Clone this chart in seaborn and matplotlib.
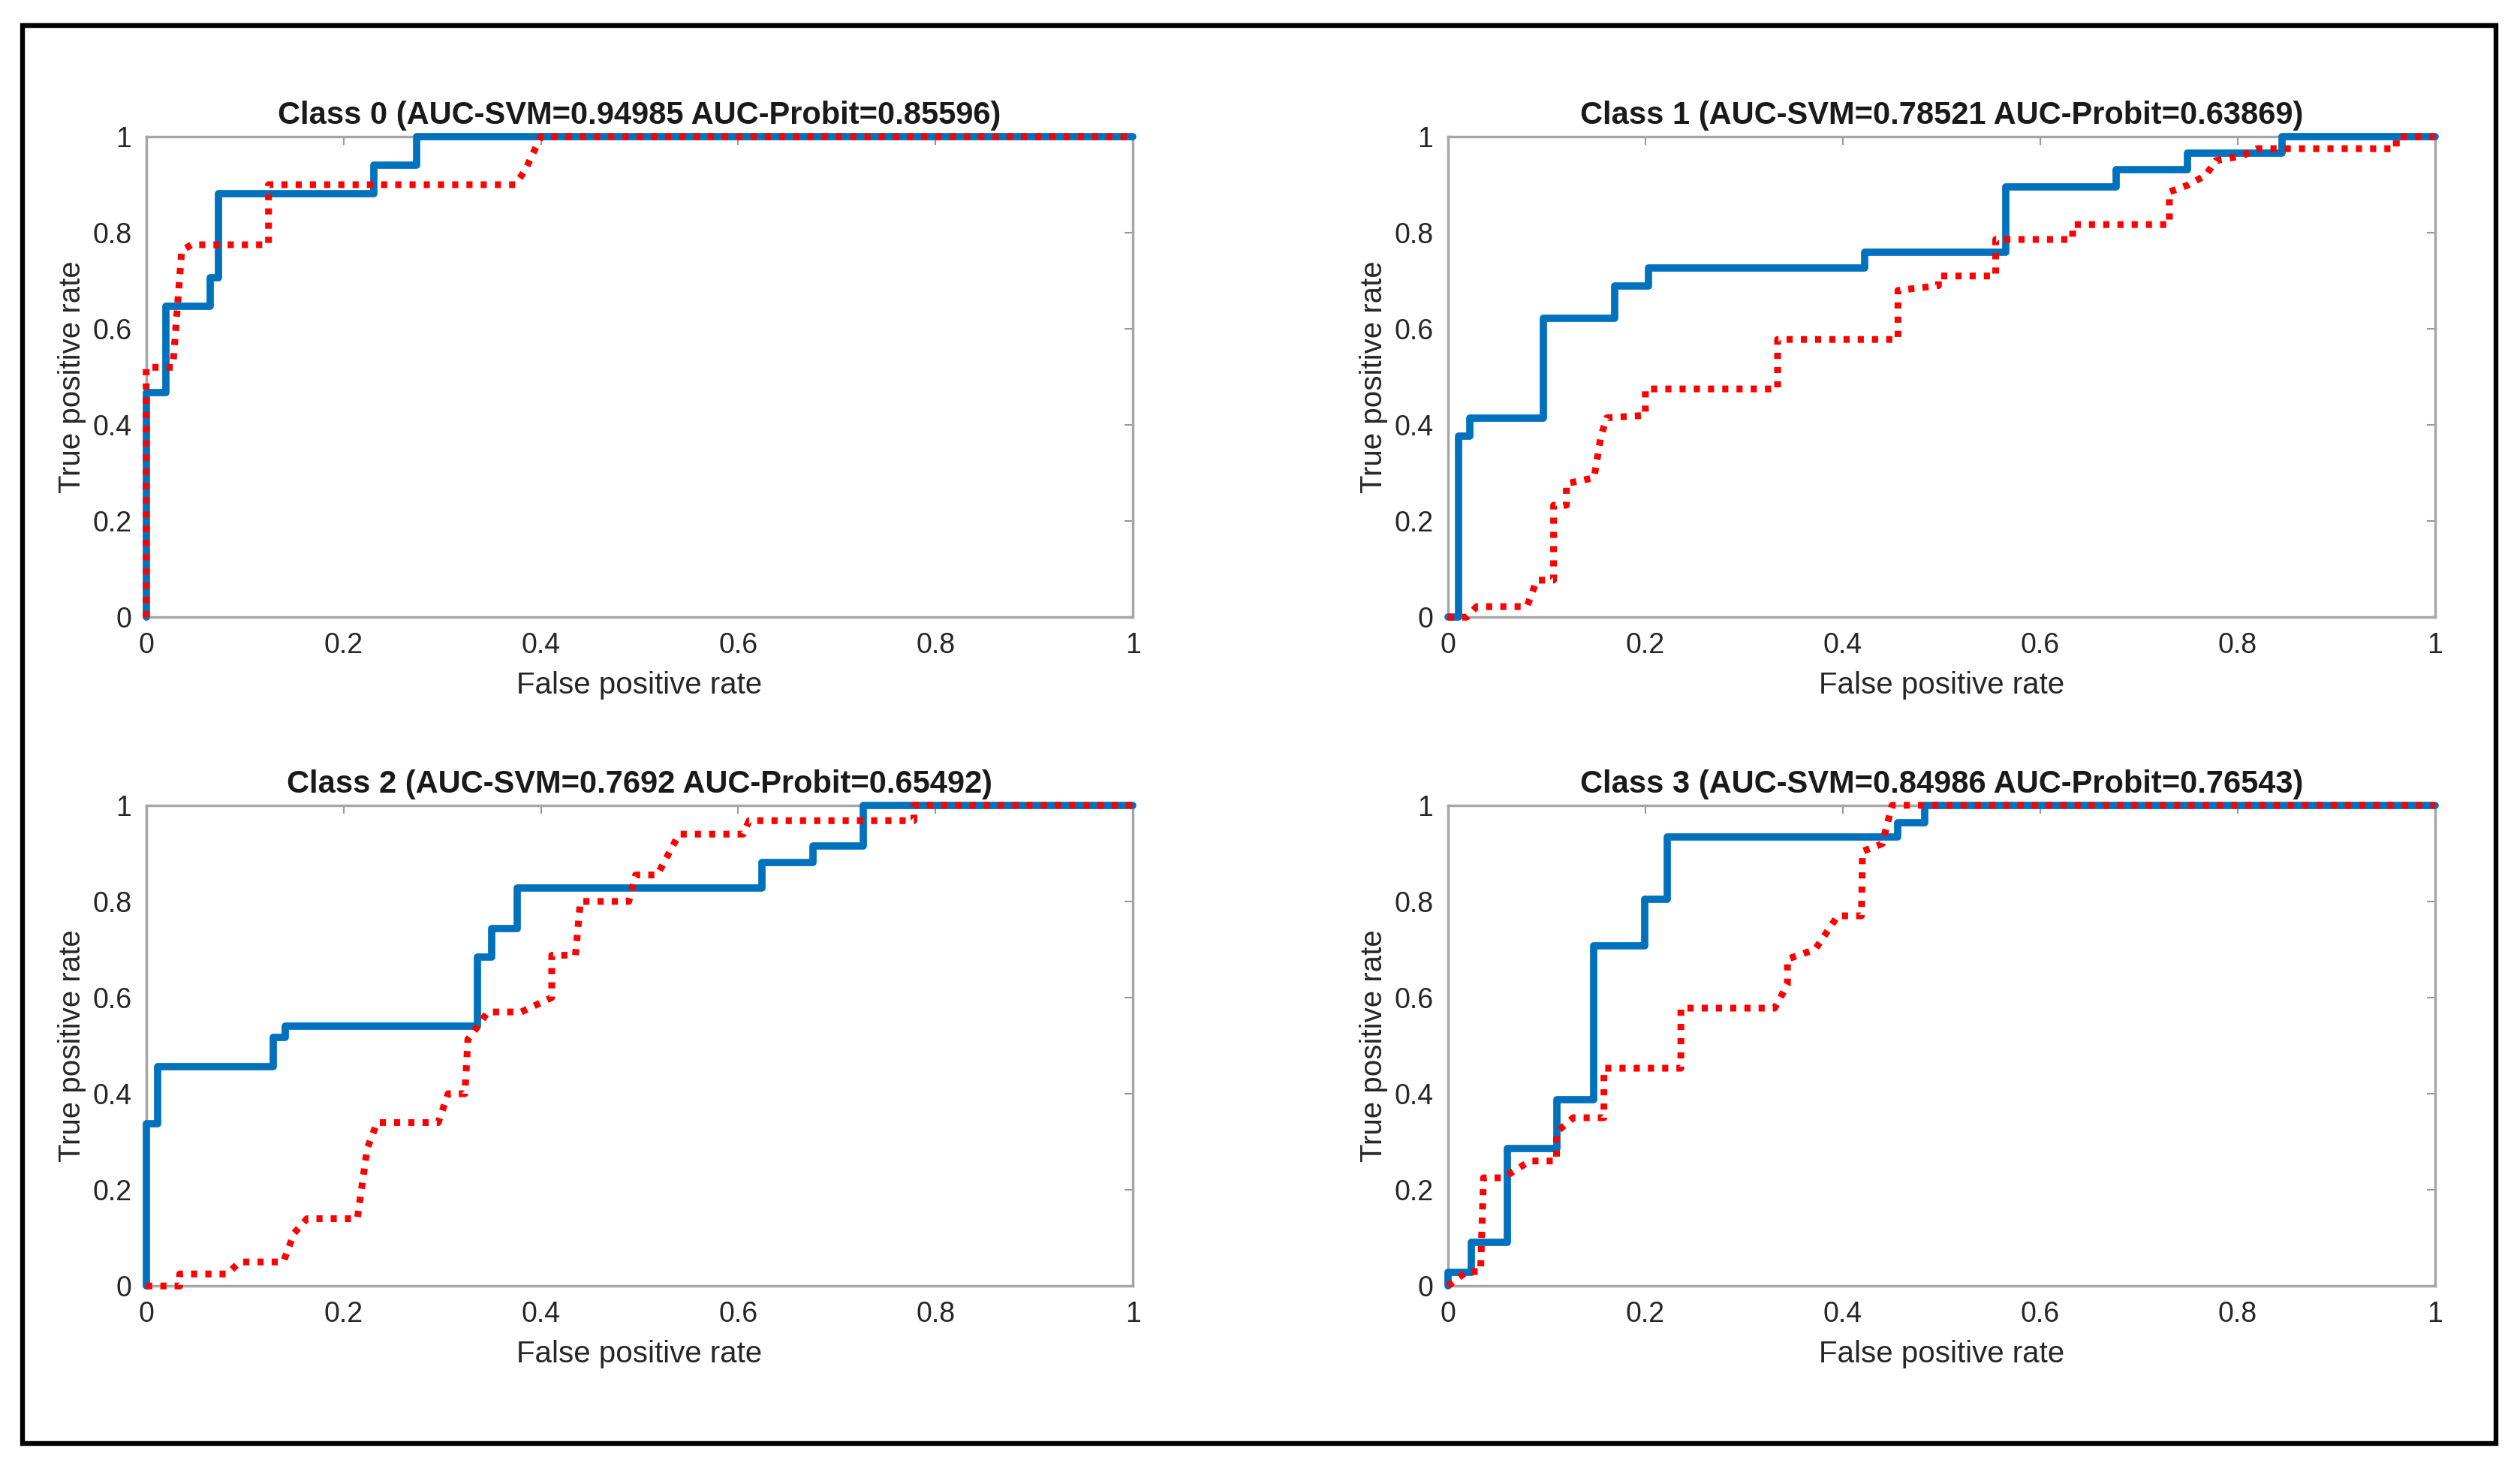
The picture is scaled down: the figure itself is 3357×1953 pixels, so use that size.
import matplotlib
matplotlib.use('Agg')
import matplotlib.pyplot as plt
import numpy as np
import pandas as pd
import seaborn as sns
from matplotlib.patches import Rectangle

# ROC corner points
svm_fpr_0 = [0, 0, 0.020, 0.020, 0.065, 0.065, 0.073, 0.073, 0.231, 0.231, 0.274, 0.274, 1.0]
svm_tpr_0 = [0, 0.468, 0.468, 0.647, 0.647, 0.707, 0.707, 0.882, 0.882, 0.940, 0.940, 1.0, 1.0]
probit_fpr_0 = [0, 0, 0.027, 0.036, 0.046, 0.124, 0.124, 0.374, 0.384, 0.400, 1.0]
probit_tpr_0 = [0, 0.520, 0.520, 0.763, 0.775, 0.775, 0.900, 0.900, 0.930, 1.0, 1.0]

svm_fpr_1 = [0, 0.011, 0.011, 0.022, 0.022, 0.097, 0.097, 0.169, 0.169, 0.203, 0.203, 0.422, 0.422,
             0.565, 0.565, 0.677, 0.677, 0.749, 0.749, 0.845, 0.845, 1.0]
svm_tpr_1 = [0, 0, 0.377, 0.377, 0.415, 0.415, 0.622, 0.622, 0.689, 0.689, 0.726, 0.726, 0.760,
             0.760, 0.896, 0.896, 0.932, 0.932, 0.966, 0.966, 1.0, 1.0]
probit_fpr_1 = [0, 0.019, 0.029, 0.080, 0.090, 0.107, 0.107, 0.120, 0.120, 0.148, 0.155, 0.161, 0.200,
                0.200, 0.334, 0.334, 0.456, 0.456, 0.497, 0.497, 0.555, 0.555, 0.633, 0.633, 0.731,
                0.731, 0.751, 0.768, 0.778, 0.805, 0.820, 0.961, 0.961, 1.0]
probit_tpr_1 = [0, 0, 0.022, 0.022, 0.077, 0.077, 0.233, 0.233, 0.278, 0.290, 0.377, 0.415, 0.420,
                0.475, 0.475, 0.578, 0.578, 0.680, 0.690, 0.710, 0.710, 0.786, 0.786, 0.817, 0.817,
                0.885, 0.900, 0.920, 0.950, 0.960, 0.975, 0.975, 1.0, 1.0]

svm_fpr_2 = [0, 0, 0.012, 0.012, 0.129, 0.129, 0.141, 0.141, 0.336, 0.336, 0.350, 0.350, 0.376, 0.376,
             0.624, 0.624, 0.676, 0.676, 0.727, 0.727, 1.0]
svm_tpr_2 = [0, 0.337, 0.337, 0.456, 0.456, 0.517, 0.517, 0.540, 0.540, 0.684, 0.684, 0.744, 0.744,
             0.828, 0.828, 0.881, 0.881, 0.915, 0.915, 1.0, 1.0]
probit_fpr_2 = [0, 0.034, 0.034, 0.082, 0.095, 0.139, 0.150, 0.163, 0.214, 0.224, 0.234, 0.296, 0.306,
                0.323, 0.326, 0.336, 0.346, 0.380, 0.411, 0.411, 0.435, 0.440, 0.489, 0.496, 0.518,
                0.540, 0.605, 0.611, 0.778, 0.778, 1.0]
probit_tpr_2 = [0, 0, 0.025, 0.025, 0.050, 0.050, 0.110, 0.140, 0.140, 0.286, 0.340, 0.340, 0.400,
                0.400, 0.513, 0.540, 0.570, 0.570, 0.600, 0.688, 0.688, 0.800, 0.800, 0.855, 0.855,
                0.940, 0.940, 0.968, 0.968, 1.0, 1.0]

svm_fpr_3 = [0, 0, 0.024, 0.024, 0.060, 0.060, 0.110, 0.110, 0.148, 0.148, 0.199, 0.199, 0.222, 0.222,
             0.456, 0.456, 0.483, 0.483, 1.0]
svm_tpr_3 = [0, 0.028, 0.028, 0.091, 0.091, 0.286, 0.286, 0.388, 0.388, 0.707, 0.707, 0.805, 0.805,
             0.934, 0.934, 0.964, 0.964, 1.0, 1.0]
probit_fpr_3 = [0, 0.019, 0.033, 0.036, 0.056, 0.083, 0.110, 0.110, 0.127, 0.158, 0.158, 0.236, 0.236,
                0.331, 0.344, 0.344, 0.372, 0.395, 0.419, 0.420, 0.440, 0.450, 1.0]
probit_tpr_3 = [0, 0.030, 0.030, 0.225, 0.225, 0.260, 0.260, 0.320, 0.350, 0.350, 0.453, 0.453, 0.578,
                0.578, 0.627, 0.680, 0.700, 0.770, 0.770, 0.904, 0.920, 1.0, 1.0]

auc_svm = ['0.94985', '0.78521', '0.7692', '0.84986']
auc_probit = ['0.85596', '0.63869', '0.65492', '0.76543']

curves = [
    (svm_fpr_0, svm_tpr_0, probit_fpr_0, probit_tpr_0),
    (svm_fpr_1, svm_tpr_1, probit_fpr_1, probit_tpr_1),
    (svm_fpr_2, svm_tpr_2, probit_fpr_2, probit_tpr_2),
    (svm_fpr_3, svm_tpr_3, probit_fpr_3, probit_tpr_3),
]
tick_vals = [0, 0.2, 0.4, 0.6, 0.8, 1]
tick_labels = ['0', '0.2', '0.4', '0.6', '0.8', '1']

sns.set_style('white')
plt.rcParams['font.family'] = ['Liberation Sans', 'DejaVu Sans']

fig = plt.figure(figsize=(33.57, 19.53), dpi=100)
# axes boxes [left, bottom, width, height] in figure fractions
boxes = [
    [0.058, 0.579, 0.3916, 0.3278],
    [0.5746, 0.579, 0.3916, 0.3278],
    [0.058, 0.1228, 0.3916, 0.3279],
    [0.5746, 0.1228, 0.3916, 0.3279],
]

for k, (sf, st, pf, pt) in enumerate(curves):
    ax = fig.add_axes(boxes[k])
    sns.lineplot(x=pf, y=pt, ax=ax, sort=False, estimator=None, color='#ff0000',
                 linewidth=6.5, linestyle=(0, (0.9, 1.2)), zorder=3, clip_on=False)
    sns.lineplot(x=sf, y=st, ax=ax, sort=False, estimator=None, color='#0072bd',
                 linewidth=7, zorder=2, clip_on=False)
    ax.set_xlim(0, 1)
    ax.set_ylim(0, 1)
    ax.set_xticks(tick_vals)
    ax.set_xticklabels(tick_labels)
    ax.set_yticks(tick_vals)
    ax.set_yticklabels(tick_labels)
    ax.tick_params(direction='in', length=8, width=1.5, colors='#999999', labelcolor='#262626',
                   labelsize=27, top=True, right=True, pad=14)
    for sp in ax.spines.values():
        sp.set_color('#a6a6a6')
        sp.set_linewidth(2.5)
        sp.set_zorder(1)
    ax.set_xlabel('False positive rate', fontsize=29, color='#262626', labelpad=12)
    ax.set_ylabel('True positive rate', fontsize=29, color='#262626', labelpad=6)
    ax.set_title(f'Class {k} (AUC-SVM={auc_svm[k]} AUC-Probit={auc_probit[k]})',
                 fontsize=30, fontweight='bold', color='#1a1a1a', pad=12)

fig.patches.append(Rectangle((0.0089, 0.0154), 0.9815, 0.9671, transform=fig.transFigure,
                             fill=False, edgecolor='black', linewidth=4.6))

fig.savefig('out.png', dpi=100, facecolor='white')
